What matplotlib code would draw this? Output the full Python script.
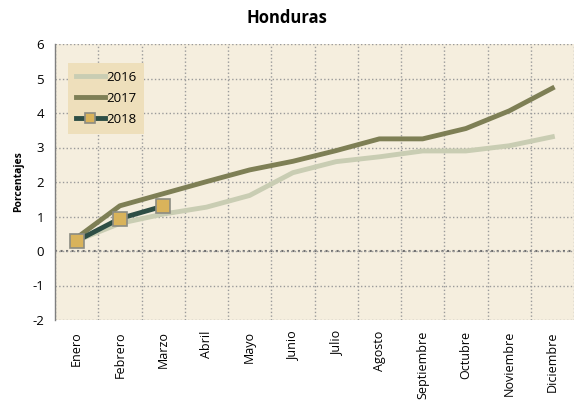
import numpy as np
import matplotlib.pyplot as plt

meses = ["Enero", "Febrero", "Marzo", "Abril", "Mayo", "Junio", "Julio",
         "Agosto", "Septiembre", "Octubre", "Noviembre", "Diciembre"]

v2016 = [0.30, 0.80, 1.07, 1.27, 1.61, 2.27, 2.59, 2.73, 2.90, 2.90, 3.05, 3.31]
v2017 = [0.38, 1.31, 1.66, 2.01, 2.35, 2.60, 2.91, 3.25, 3.25, 3.55, 4.06, 4.72]
v2018 = [0.29, 0.94, 1.30]

plt.rcParams["font.family"] = ["Open Sans", "DejaVu Sans"]
plt.rcParams["axes.unicode_minus"] = False

fig = plt.figure(figsize=(5.74, 4.05), dpi=100)
ax = fig.add_axes([55 / 574, 1 - 320 / 405, 519 / 574, 276 / 405])
ax.set_facecolor("#F5EEDE")

x = np.arange(len(meses))

ax.plot(x, v2016, color="#C9CDB3", linewidth=3.5, label="2016")
ax.plot(x, v2017, color="#7E7F55", linewidth=3.5, label="2017")
ax.plot(x[:len(v2018)], v2018, color="#2E4E45", linewidth=3.5,
        marker="s", markersize=10, markerfacecolor="#D9B35B",
        markeredgecolor="#8C8C82", markeredgewidth=1.2, label="2018")

ax.set_xlim(-0.5, 11.5)
ax.set_ylim(-2, 6)
ax.set_yticks(range(-2, 7))
ax.set_xticks(x)
ax.set_xticklabels(meses, rotation=90, fontsize=9)
ax.set_xticks(np.arange(-0.5, 12, 1), minor=True)
ax.tick_params(axis="x", which="both", length=0, pad=8)
ax.tick_params(axis="y", length=0, labelsize=9.5, pad=8)

ax.grid(True, axis="y", which="major", color="#9A9A9A", linestyle=":", linewidth=1)
ax.grid(True, axis="x", which="minor", color="#9A9A9A", linestyle=":", linewidth=1)
ax.axhline(0, color="#6E6E6E", linestyle=":", linewidth=1.5, zorder=1)

for s in ["top", "right", "bottom"]:
    ax.spines[s].set_visible(False)
ax.spines["left"].set_color("#7F7F7F")
ax.spines["left"].set_linewidth(1)

ax.set_ylabel("Porcentajes", fontsize=7.5, fontweight="bold", labelpad=6)
fig.text(0.5, 0.955, "Honduras", ha="center", va="center",
         fontsize=12, fontweight="bold")

leg = ax.legend(loc="upper left", bbox_to_anchor=(0.012, 0.955),
                frameon=True, fancybox=False, facecolor="#EEDFBB",
                edgecolor="none", framealpha=1, fontsize=9.5,
                handlelength=2.2, handletextpad=0.1, labelspacing=0.6,
                borderpad=0.6, markerscale=0.7)

fig.savefig("out.png", dpi=100)
